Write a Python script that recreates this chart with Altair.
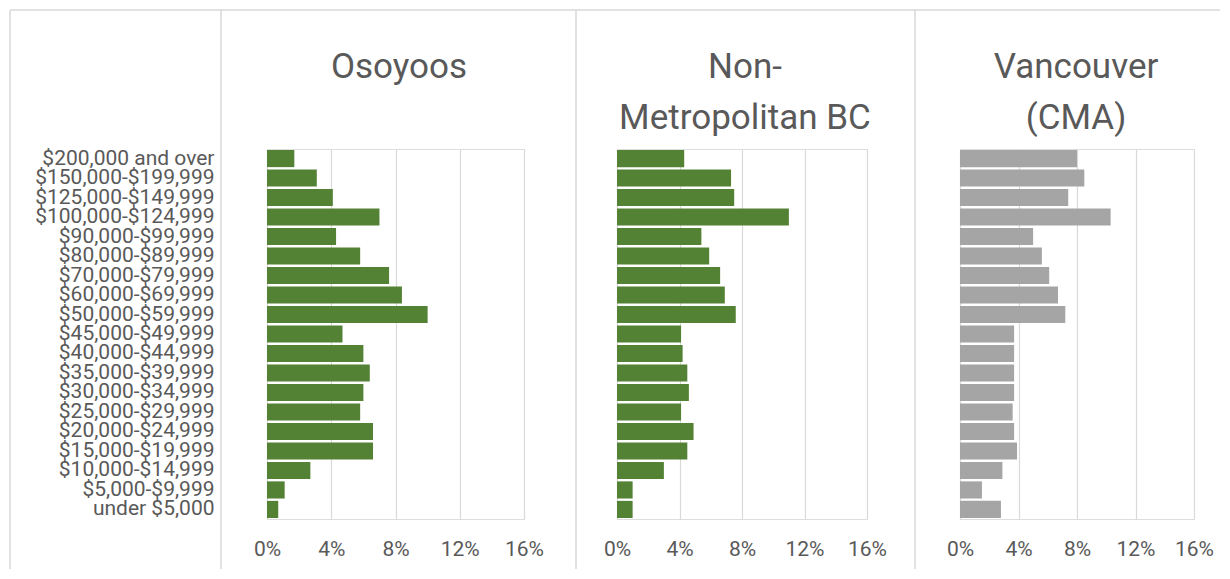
import altair as alt
import pandas as pd

categories = ["$200,000 and over", "$150,000-$199,999", "$125,000-$149,999",
              "$100,000-$124,999", "$90,000-$99,999", "$80,000-$89,999",
              "$70,000-$79,999", "$60,000-$69,999", "$50,000-$59,999",
              "$45,000-$49,999", "$40,000-$44,999", "$35,000-$39,999",
              "$30,000-$34,999", "$25,000-$29,999", "$20,000-$24,999",
              "$15,000-$19,999", "$10,000-$14,999", "$5,000-$9,999",
              "under $5,000"]

osoyoos = [1.7, 3.1, 4.1, 7.0, 4.3, 5.8, 7.6, 8.4, 10.0, 4.7, 6.0, 6.4, 6.0,
           5.8, 6.6, 6.6, 2.7, 1.1, 0.7]
non_metro = [4.3, 7.3, 7.5, 11.0, 5.4, 5.9, 6.6, 6.9, 7.6, 4.1, 4.2, 4.5, 4.6,
             4.1, 4.9, 4.5, 3.0, 1.0, 1.0]
vancouver = [8.0, 8.5, 7.4, 10.3, 5.0, 5.6, 6.1, 6.7, 7.2, 3.7, 3.7, 3.7, 3.7,
             3.6, 3.7, 3.9, 2.9, 1.5, 2.8]

titles = [["Osoyoos"], ["Non-", "Metropolitan BC"], ["Vancouver", "(CMA)"]]
colors = ["#548235", "#548235", "#A5A5A5"]
x_ticks = [0, 0.04, 0.08, 0.12, 0.16]

TEXT = "#595959"
LINE = "#D9D9D9"
H = 370

one = pd.DataFrame({"k": [0]})


def panel(values, title, color, width, show_labels, title_x, borders):
    df = pd.DataFrame({"cat": categories, "share": [v / 100 for v in values]})
    yaxis = alt.Axis(title=None, labels=show_labels, ticks=False, domain=False,
                     grid=False, labelFont="Roboto", labelFontSize=21,
                     labelColor=TEXT, labelPadding=53, labelLimit=400,
                     labelOverlap=False)
    bars = alt.Chart(df).mark_bar(color=color).encode(
        y=alt.Y("cat:N", sort=categories, axis=yaxis,
                scale=alt.Scale(paddingInner=0.12, paddingOuter=0.05)),
        x=alt.X("share:Q", scale=alt.Scale(domain=[0, 0.16], nice=False),
                axis=alt.Axis(title=None, values=x_ticks, format=".0%",
                              grid=True, gridColor=LINE, gridWidth=1.2,
                              ticks=False, tickSize=0, domain=False,
                              labelFont="Roboto", labelFontSize=21,
                              labelColor=TEXT, labelPadding=19,
                              labelFlush=False, labelOverlap=False)),
    )
    ttl = alt.Chart(one).mark_text(
        font="Roboto", fontSize=35, color=TEXT, align="center",
        baseline="alphabetic", lineHeight=51,
    ).encode(x=alt.value(title_x), y=alt.value(-71), text=alt.value(title))
    layers = [bars, ttl]
    for (x1, x2) in borders["h"]:
        layers.append(alt.Chart(one).mark_rule(color=LINE, strokeWidth=1.5).encode(
            x=alt.value(x1), x2=alt.value(x2), y=alt.value(-139)))
    for xv in borders["v"]:
        layers.append(alt.Chart(one).mark_rule(color=LINE, strokeWidth=1.5).encode(
            x=alt.value(xv), y=alt.value(-139), y2=alt.value(420)))
    return alt.layer(*layers).properties(width=width, height=H)


p1 = panel(osoyoos, titles[0], colors[0], 257, True, 132,
           {"h": [(-257, -46), (-46, 309)], "v": [-257, -46, 309]})
p2 = panel(non_metro, titles[1], colors[1], 250, False, 128,
           {"h": [(-41, 298)], "v": [298]})
p3 = panel(vancouver, titles[2], colors[2], 234, False, 116,
           {"h": [(-45, 260)], "v": []})

chart = alt.hconcat(p1, p2, p3, spacing=93, bounds="flush").properties(
    padding=0
).configure_view(stroke=None).configure(background="white")

chart.save("out.html", embed_options={"renderer": "svg", "actions": False})
